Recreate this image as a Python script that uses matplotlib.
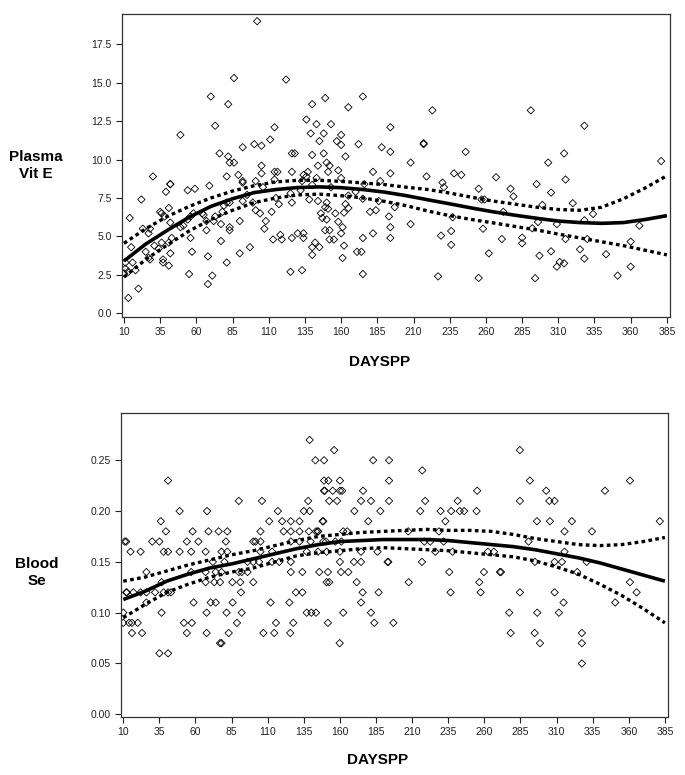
import matplotlib
matplotlib.use("Agg")
import matplotlib.pyplot as plt
import numpy as np

plt.rcParams['font.family'] = ['Liberation Sans', 'DejaVu Sans']

# ---- Plasma Vit E panel: scatter (day, value) ----
vite_days = [
    102, 86, 122, 70, 82, 136, 73, 114, 49, 139, 111, 100, 105, 92, 76, 126, 128, 82, 83, 86,
    105, 30, 81, 89, 105, 114, 116, 126, 134, 137, 42, 42, 69, 92, 92, 101, 114, 106, 39, 54,
    59, 22, 41, 14, 35, 36, 38, 42, 23, 15, 27, 28, 31, 34, 37, 37, 41, 42, 41, 43,
    36, 25, 27, 28, 11, 16, 11, 10, 13, 18, 13, 20, 55, 56, 57, 68, 71, 68, 67, 67,
    65, 64, 54, 56, 58, 49, 51, 72, 73, 77, 77, 78, 79, 81, 83, 81, 83, 83, 90, 90,
    97, 92, 95, 99, 101, 104, 108, 107, 112, 113, 115, 117, 118, 119, 126, 126, 125, 133, 130, 134,
    134, 132, 136, 125,
    140, 149, 175, 165, 223, 143, 153, 194, 148, 160, 145, 157, 160, 172, 188, 217, 217, 140, 148, 163,
    194, 246, 208, 144, 150, 152, 158, 151, 182, 194, 219, 238, 243, 143, 160, 133, 230, 231, 187, 176,
    255, 140, 170, 138, 144, 150, 153, 163, 165, 165, 175, 186, 197, 180, 184, 146, 147, 150, 151, 149,
    156, 162, 158, 161, 160, 149, 152, 152, 155, 145, 142, 140, 140, 162, 161, 171, 174, 175, 182, 194,
    194, 193, 208, 175, 227, 255, 229, 236, 236, 237, 258, 262, 257,
    291, 328, 314, 303, 381, 267, 315, 295, 305, 277, 279, 259, 299, 320, 272, 334, 296, 292, 309, 328,
    366, 271, 315, 330, 285, 285, 360, 297, 305, 325, 343, 328, 311, 309, 314, 360, 351, 294,
]
vite_vals = [
    19.0, 15.3, 15.2, 14.1, 13.6, 12.6, 12.2, 12.1, 11.6, 11.7, 11.3, 11.0, 10.9, 10.8, 10.4, 10.4, 10.4, 10.2, 9.8, 9.8,
    9.6, 8.9, 8.9, 9.0, 9.1, 9.2, 9.2, 9.2, 9.0, 9.2, 8.4, 8.4, 8.3, 8.6, 8.5, 8.6, 8.7, 8.2, 7.9, 8.0,
    8.1, 7.4, 6.85, 6.2, 6.6, 6.5, 6.3, 5.9, 5.5, 4.3, 5.2, 5.5, 4.4, 4.2, 3.5, 3.3, 3.1, 3.9, 4.6, 4.9,
    4.6, 4.0, 3.6, 3.5, 3.3, 3.3, 2.9, 2.6, 2.7, 2.8, 1.0, 1.6, 2.55, 4.9, 4.0, 1.9, 2.45, 3.7, 5.4, 6.0,
    6.4, 6.5, 6.1, 6.3, 6.5, 5.6, 5.7, 6.0, 6.3, 4.7, 5.8, 6.6, 7.0, 7.2, 7.2, 3.3, 5.6, 5.4, 6.0, 3.9,
    4.3, 7.3, 7.7, 7.2, 6.7, 6.5, 6.0, 5.5, 6.6, 4.8, 7.5, 7.1, 5.1, 4.8, 4.9, 7.2, 2.7, 2.8, 5.2, 4.9,
    5.2, 8.0, 8.9, 7.8,
    13.6, 14.0, 14.1, 13.4, 13.2, 12.3, 12.3, 12.1, 11.7, 11.6, 11.2, 11.2, 10.95, 11.0, 10.8, 11.06, 11.0, 10.3, 10.4, 10.2,
    10.5, 10.5, 9.8, 9.6, 9.8, 9.6, 9.3, 9.2, 9.2, 9.1, 8.9, 9.1, 9.0, 8.8, 8.8, 8.6, 8.5, 8.2, 8.6, 8.4,
    8.1, 8.35, 7.9, 7.4, 7.3, 7.2, 8.2, 7.1, 6.85, 7.65, 7.45, 7.3, 6.9, 6.6, 6.7, 6.5, 6.2, 6.1, 6.8, 6.9,
    6.5, 6.55, 5.95, 5.6, 5.2, 5.4, 5.4, 4.8, 4.8, 4.3, 4.6, 4.3, 3.8, 4.4, 3.6, 4.0, 4.0, 4.9, 5.2, 5.6,
    4.9, 6.3, 5.8, 2.55, 2.4, 2.3, 5.05, 5.35, 4.45, 6.25, 5.5, 3.9, 7.4,
    13.2, 12.2, 10.4, 9.8, 9.9, 8.85, 8.7, 8.4, 7.85, 8.1, 7.6, 7.4, 7.05, 7.16, 6.6, 6.46, 5.94, 5.53, 5.8, 6.05,
    5.7, 4.83, 4.83, 4.83, 4.92, 4.55, 4.66, 3.75, 4.03, 4.16, 3.84, 3.56, 3.34, 3.03, 3.25, 3.03, 2.45, 2.28,
]

# ---- Blood Se panel: scatter (day, value) ----
se_days = [
    41, 49, 68, 90, 106, 117, 36, 111, 120, 126, 132, 135, 139, 138, 39.5, 58, 69, 76, 82, 105,
    121, 126, 132, 138.5, 11, 12, 30, 35, 54, 62, 81, 100, 101.6, 105, 126, 132, 15, 22, 38, 41,
    49, 57, 67, 78, 82, 105, 137, 113, 72, 80, 96, 100, 104, 113, 118, 126, 26, 57, 67, 74,
    78, 90, 92, 96, 126, 134, 12, 12.5, 17, 22, 26, 32, 36.5, 38, 41, 43, 67, 73, 77, 85.5,
    91, 100, 91.5, 129.5, 134, 10, 36.5, 67.7, 81.5, 92, 137, 58.7, 70.5, 74, 85.7, 112, 125, 26, 10, 14,
    16, 20, 52, 57.5, 88.7, 115.7, 127.7, 16, 23, 54, 67.7, 83, 107, 114.5, 125.6, 77, 78, 35, 41,
    156, 143, 149, 183, 194, 217, 149, 152, 160, 194, 149, 149.5, 155, 160, 161.5, 176, 255, 152.6, 158, 174.6,
    181.5, 194, 219, 241.5, 139, 170, 188, 215.6, 229.7, 237, 243, 246, 254.6, 148, 148.5, 179.6, 233, 143.4, 144.6, 145,
    162.3, 165, 228.6, 207.3, 139.7, 148.5, 150.3, 156.8, 161, 218.4, 222.5, 231.8, 144.8, 150.8, 160, 174.6, 186, 226, 238, 262.5,
    160, 169.7, 174.6, 193, 193.5, 216.8, 145.7, 151.7, 160.7, 165.8, 235.7, 259.7, 150.8, 152.6, 171.6, 207.6, 256.5, 175.7, 186.8, 236.6,
    257.4, 174.6, 140.2, 143.4, 162.3, 181.5, 151.7, 183.8, 197, 159.8,
    284.6, 291.5, 360.8, 302.8, 343.5, 284.6, 305, 308.6, 296.4, 305.4, 320.6, 381.5, 315.5, 334.5, 290.6, 315.5, 266.6, 295, 308.6, 313.7,
    330.8, 270.8, 271.5, 324.3, 360.8, 284.6, 308.6, 365.4, 314.8, 350.6, 277.2, 296.6, 311.6, 278.2, 294.8, 327.5, 298.5, 327.5, 327.5,
]
se_vals = [
    0.23, 0.20, 0.20, 0.21, 0.21, 0.20, 0.19, 0.19, 0.19, 0.19, 0.19, 0.20, 0.27, 0.21, 0.18, 0.18, 0.18, 0.18, 0.18, 0.18,
    0.18, 0.18, 0.18, 0.18, 0.17, 0.17, 0.17, 0.17, 0.17, 0.17, 0.17, 0.17, 0.17, 0.17, 0.17, 0.17, 0.16, 0.16, 0.16, 0.16,
    0.16, 0.16, 0.16, 0.16, 0.16, 0.16, 0.16, 0.16, 0.15, 0.15, 0.15, 0.15, 0.15, 0.15, 0.15, 0.15, 0.14, 0.14, 0.14, 0.14,
    0.14, 0.14, 0.14, 0.14, 0.14, 0.14, 0.12, 0.12, 0.12, 0.12, 0.12, 0.12, 0.13, 0.12, 0.12, 0.12, 0.13, 0.13, 0.13, 0.13,
    0.13, 0.13, 0.12, 0.12, 0.12, 0.10, 0.10, 0.10, 0.10, 0.10, 0.10, 0.11, 0.11, 0.11, 0.11, 0.11, 0.11, 0.11, 0.09, 0.09,
    0.09, 0.09, 0.09, 0.09, 0.09, 0.09, 0.09, 0.08, 0.08, 0.08, 0.08, 0.08, 0.08, 0.08, 0.08, 0.07, 0.07, 0.06, 0.06,
    0.26, 0.25, 0.25, 0.25, 0.25, 0.24, 0.23, 0.23, 0.23, 0.23, 0.22, 0.22, 0.22, 0.22, 0.22, 0.22, 0.22, 0.21, 0.21, 0.21,
    0.21, 0.21, 0.21, 0.21, 0.20, 0.20, 0.20, 0.20, 0.20, 0.20, 0.20, 0.20, 0.20, 0.19, 0.19, 0.19, 0.19, 0.18, 0.18, 0.18,
    0.18, 0.18, 0.18, 0.18, 0.17, 0.17, 0.17, 0.17, 0.17, 0.17, 0.17, 0.17, 0.16, 0.16, 0.16, 0.16, 0.16, 0.16, 0.16, 0.16,
    0.15, 0.15, 0.15, 0.15, 0.15, 0.15, 0.14, 0.14, 0.14, 0.14, 0.14, 0.14, 0.13, 0.13, 0.13, 0.13, 0.13, 0.12, 0.12, 0.12,
    0.12, 0.11, 0.10, 0.10, 0.10, 0.10, 0.09, 0.09, 0.09, 0.07,
    0.26, 0.23, 0.23, 0.22, 0.22, 0.21, 0.21, 0.21, 0.19, 0.19, 0.19, 0.19, 0.18, 0.18, 0.17, 0.16, 0.16, 0.15, 0.15, 0.15,
    0.15, 0.14, 0.14, 0.14, 0.13, 0.12, 0.12, 0.12, 0.11, 0.11, 0.10, 0.10, 0.10, 0.08, 0.08, 0.08, 0.07, 0.07, 0.05,
]

# ---- fitted curves with confidence bands (read every 15 days) ----
fit_days = [10, 25, 40, 55, 70, 85, 100, 115, 130, 145, 160, 175, 190, 205, 220, 235, 250, 265, 280, 295,
            310, 325, 340, 355, 370, 385]
vite_fit = [3.4, 4.5, 5.4, 6.25, 6.95, 7.45, 7.85, 8.05, 8.18, 8.22, 8.17, 8.05, 7.88, 7.65, 7.38, 7.12,
            6.85, 6.6, 6.38, 6.18, 6.0, 5.9, 5.85, 5.9, 6.1, 6.35]
vite_upper = [4.55, 5.5, 6.3, 6.95, 7.5, 7.95, 8.3, 8.55, 8.65, 8.65, 8.58, 8.48, 8.37, 8.2, 8.05, 7.82,
              7.55, 7.3, 7.1, 6.9, 6.75, 6.7, 6.9, 7.45, 8.15, 8.95]
vite_lower = [2.35, 3.5, 4.45, 5.35, 6.1, 6.7, 7.2, 7.5, 7.7, 7.75, 7.65, 7.5, 7.28, 7.0, 6.65, 6.35,
              6.1, 5.88, 5.65, 5.42, 5.15, 4.9, 4.65, 4.4, 4.1, 3.8]
se_fit = [0.113, 0.121, 0.131, 0.138, 0.144, 0.148, 0.153, 0.158, 0.163, 0.167, 0.170, 0.171, 0.172, 0.172,
          0.172, 0.171, 0.169, 0.167, 0.165, 0.162, 0.158, 0.154, 0.149, 0.143, 0.137, 0.131]
se_upper = [0.131, 0.135, 0.141, 0.147, 0.152, 0.157, 0.161, 0.166, 0.171, 0.175, 0.177, 0.179, 0.180, 0.181,
            0.182, 0.181, 0.181, 0.180, 0.177, 0.173, 0.170, 0.167, 0.166, 0.167, 0.170, 0.174]
se_lower = [0.095, 0.108, 0.120, 0.128, 0.135, 0.140, 0.144, 0.150, 0.156, 0.159, 0.161, 0.163, 0.164, 0.163,
            0.162, 0.161, 0.159, 0.157, 0.155, 0.151, 0.145, 0.138, 0.128, 0.117, 0.104, 0.090]

x_ticks = list(range(10, 386, 25))

fig = plt.figure(figsize=(6.85, 7.75), dpi=100)
ax1 = fig.add_axes([0.178, 0.591, 0.800, 0.391])
ax2 = fig.add_axes([0.1766, 0.0748, 0.7985, 0.392])


def draw_panel(ax, days, vals, fit, upper, lower):
    ax.scatter(days, vals, marker='D', s=14, facecolors='none', edgecolors='black',
               linewidths=0.6, zorder=2)
    ax.plot(fit_days, fit, color='black', lw=2.6, zorder=3, solid_capstyle='butt')
    for band in (upper, lower):
        ax.plot(fit_days, band, color='black', lw=2.4, linestyle=(0, (1.1, 1.0)),
                dash_capstyle='butt', zorder=3)
    ax.set_xticks(x_ticks)
    ax.tick_params(direction='out', length=4, width=0.8, labelsize=7.5, colors='#222222')
    for sp in ax.spines.values():
        sp.set_linewidth(0.9)
        sp.set_color('#333333')


draw_panel(ax1, vite_days, vite_vals, vite_fit, vite_upper, vite_lower)
ax1.set_xlim(8.6, 387.1)
ax1.set_ylim(-0.24, 19.47)
ax1.set_yticks(np.arange(0, 17.6, 2.5))
ax1.set_yticklabels(['%.1f' % v for v in np.arange(0, 17.6, 2.5)])

draw_panel(ax2, se_days, se_vals, se_fit, se_upper, se_lower)
ax2.set_xlim(8.4, 387.1)
ax2.set_ylim(-0.0027, 0.2963)
ax2.set_yticks(np.arange(0, 0.251, 0.05))
ax2.set_yticklabels(['%.2f' % v for v in np.arange(0, 0.251, 0.05)])

lab = dict(fontsize=11, fontweight='bold', ha='center', va='center', linespacing=1.2)
fig.text(36 / 685, 1 - 165.5 / 775, 'Plasma\nVit E', **lab)
fig.text(37 / 685, 1 - 572.5 / 775, 'Blood\nSe', **lab)
fig.text(380 / 685, 1 - 362 / 775, 'DAYSPP', **lab)
fig.text(378 / 685, 1 - 760 / 775, 'DAYSPP', **lab)

fig.savefig('out.png', dpi=100)
